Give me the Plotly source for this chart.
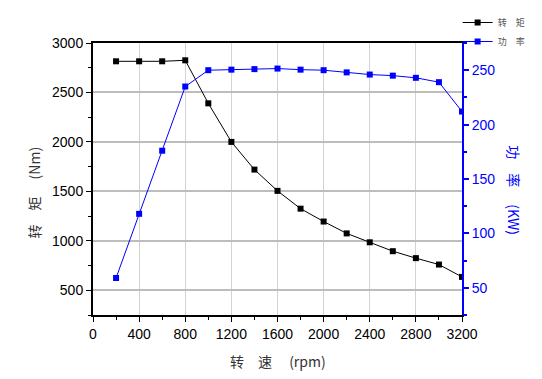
import plotly.graph_objects as go

speed = [200, 400, 600, 800, 1000, 1200, 1400, 1600, 1800, 2000, 2200, 2400, 2600, 2800, 3000, 3200]
torque = [2815, 2815, 2815, 2825, 2390, 2000, 1720, 1505, 1325, 1195, 1075, 985, 895, 825, 760, 635]
power = [59, 118, 176, 235, 250, 250.5, 251, 251.5, 250.5, 250, 248, 246, 245, 243, 239, 212]

x_ticks = [0, 400, 800, 1200, 1600, 2000, 2400, 2800, 3200]
left_ticks = [500, 1000, 1500, 2000, 2500, 3000]
right_ticks = [50, 100, 150, 200, 250]

tick_font = dict(family="Liberation Sans, Arial", size=14)
cjk = "Noto Sans CJK SC"

fig = go.Figure()
fig.add_trace(go.Scatter(
    x=speed, y=torque, name="转　矩", mode="lines+markers",
    line=dict(color="black", width=1),
    marker=dict(symbol="square", size=6, color="black"),
    yaxis="y"))
fig.add_trace(go.Scatter(
    x=speed, y=power, name="功　率", mode="lines+markers",
    line=dict(color="#0000ff", width=1),
    marker=dict(symbol="square", size=6, color="#0000ff"),
    yaxis="y2"))

fig.update_layout(
    width=534, height=371,
    margin=dict(l=85, r=80, t=35, b=64, autoexpand=False),
    paper_bgcolor="white", plot_bgcolor="white",
    showlegend=True,
    legend=dict(x=0.842, y=1.015, xanchor="left", yanchor="top",
                xref="container", yref="container",
                font=dict(family=cjk, size=9, color="#555555"),
                bgcolor="rgba(0,0,0,0)", itemwidth=30, tracegroupgap=0),
    xaxis=dict(range=[0, 3200], tickvals=x_ticks, ticks="outside", ticklen=5,
               tickwidth=1, tickcolor="black",
               minor=dict(dtick=200, ticks="outside", ticklen=3, tickcolor="black", showgrid=False),
               showgrid=True, gridcolor="#d3d3d3", gridwidth=1,
               showline=True, linecolor="black", linewidth=2, mirror=True,
               zeroline=False, tickfont=dict(tick_font, color="black")),
    yaxis=dict(range=[250, 3000], tickvals=left_ticks, ticks="outside", ticklen=5,
               tickwidth=1, tickcolor="black",
               minor=dict(dtick=250, ticks="outside", ticklen=3, tickcolor="black", showgrid=False),
               showgrid=True, gridcolor="#bdbdbd", gridwidth=2,
               showline=True, linecolor="black", linewidth=2,
               zeroline=False, tickfont=dict(tick_font, color="black")),
    yaxis2=dict(range=[25, 275], tickvals=right_ticks, overlaying="y", side="right",
                ticks="outside", ticklen=5, tickwidth=2, tickcolor="#0000ff",
                minor=dict(dtick=25, ticks="outside", ticklen=3, tickcolor="#0000ff"),
                showgrid=False, showline=True, linecolor="#0000ff", linewidth=2,
                zeroline=False, tickfont=dict(tick_font, color="#0000ff")),
)

fig.add_annotation(text="转　矩　 (Nm)", xref="paper", yref="paper", x=-0.16, y=0.45,
                   xanchor="center", yanchor="middle",
                   textangle=-90, showarrow=False,
                   font=dict(family=cjk, size=14, color="#333333"))
fig.add_annotation(text="功　率　 (KW)", xref="paper", yref="paper", x=1.14, y=0.46,
                   xanchor="center", yanchor="middle",
                   textangle=90, showarrow=False,
                   font=dict(family=cjk, size=14, color="#0000ff"))
fig.add_annotation(text="转　速　 (rpm)", xref="paper", yref="paper", x=0.5, y=-0.169,
                   xanchor="center", yanchor="middle", showarrow=False,
                   font=dict(family=cjk, size=14, color="#333333"))

fig.write_html("out.html")
